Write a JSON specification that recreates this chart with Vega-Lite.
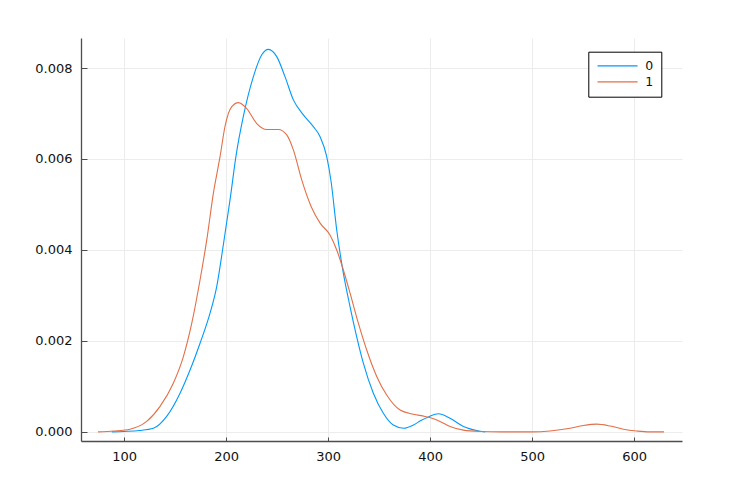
{
  "$schema": "https://vega.github.io/schema/vega-lite/v6.json",
  "width": 601,
  "height": 403,
  "autosize": {"type": "none"},
  "padding": {"left": 81, "top": 38, "right": 63, "bottom": 60},
  "background": "white",
  "config": {
    "view": {"stroke": null},
    "font": "DejaVu Sans",
    "axis": {
      "domainColor": "#4d4d4d",
      "domainWidth": 1.3,
      "tickColor": "#4d4d4d",
      "tickWidth": 1,
      "gridColor": "#ececec",
      "gridWidth": 1,
      "labelColor": "#111111",
      "labelFontSize": 13,
      "labelFont": "DejaVu Sans",
      "title": null
    }
  },
  "data": {
    "values": [
      {"x": 88, "y": 0, "s": "0"},
      {"x": 100, "y": 0.00001, "s": "0"},
      {"x": 115, "y": 0.00003, "s": "0"},
      {"x": 128.8, "y": 0.00008, "s": "0"},
      {"x": 141.8, "y": 0.00034, "s": "0"},
      {"x": 154.9, "y": 0.00085, "s": "0"},
      {"x": 164.7, "y": 0.00136, "s": "0"},
      {"x": 174.5, "y": 0.00195, "s": "0"},
      {"x": 184.3, "y": 0.00261, "s": "0"},
      {"x": 190.8, "y": 0.00319, "s": "0"},
      {"x": 197.4, "y": 0.00412, "s": "0"},
      {"x": 203.9, "y": 0.0051, "s": "0"},
      {"x": 210, "y": 0.0061, "s": "0"},
      {"x": 216.9, "y": 0.00693, "s": "0"},
      {"x": 226.8, "y": 0.00781, "s": "0"},
      {"x": 235, "y": 0.00829, "s": "0"},
      {"x": 241.5, "y": 0.00841, "s": "0"},
      {"x": 249.7, "y": 0.00825, "s": "0"},
      {"x": 257.8, "y": 0.00781, "s": "0"},
      {"x": 266, "y": 0.0073, "s": "0"},
      {"x": 275.8, "y": 0.00697, "s": "0"},
      {"x": 285.6, "y": 0.00671, "s": "0"},
      {"x": 292.2, "y": 0.00649, "s": "0"},
      {"x": 298.7, "y": 0.00605, "s": "0"},
      {"x": 303, "y": 0.0055, "s": "0"},
      {"x": 308.5, "y": 0.00444, "s": "0"},
      {"x": 315, "y": 0.00349, "s": "0"},
      {"x": 321.6, "y": 0.00275, "s": "0"},
      {"x": 328.1, "y": 0.00209, "s": "0"},
      {"x": 334.6, "y": 0.00151, "s": "0"},
      {"x": 344.4, "y": 0.00085, "s": "0"},
      {"x": 354.2, "y": 0.00041, "s": "0"},
      {"x": 364, "y": 0.00015, "s": "0"},
      {"x": 374, "y": 0.00008, "s": "0"},
      {"x": 383.6, "y": 0.00015, "s": "0"},
      {"x": 391, "y": 0.00025, "s": "0"},
      {"x": 398.4, "y": 0.00033, "s": "0"},
      {"x": 408.2, "y": 0.0004, "s": "0"},
      {"x": 419.6, "y": 0.0003, "s": "0"},
      {"x": 432.7, "y": 0.00012, "s": "0"},
      {"x": 445.8, "y": 0.00003, "s": "0"},
      {"x": 454, "y": 0, "s": "0"},
      {"x": 74.5, "y": 0, "s": "1"},
      {"x": 90, "y": 0.00002, "s": "1"},
      {"x": 105.9, "y": 0.00006, "s": "1"},
      {"x": 122.2, "y": 0.00023, "s": "1"},
      {"x": 135.3, "y": 0.00056, "s": "1"},
      {"x": 148.3, "y": 0.00107, "s": "1"},
      {"x": 158.1, "y": 0.00165, "s": "1"},
      {"x": 166.4, "y": 0.00239, "s": "1"},
      {"x": 174.5, "y": 0.00334, "s": "1"},
      {"x": 181.1, "y": 0.00422, "s": "1"},
      {"x": 187.6, "y": 0.00525, "s": "1"},
      {"x": 194.1, "y": 0.00605, "s": "1"},
      {"x": 199, "y": 0.00672, "s": "1"},
      {"x": 205.6, "y": 0.00715, "s": "1"},
      {"x": 212.1, "y": 0.00724, "s": "1"},
      {"x": 220.3, "y": 0.00711, "s": "1"},
      {"x": 230.1, "y": 0.00678, "s": "1"},
      {"x": 239.9, "y": 0.00665, "s": "1"},
      {"x": 251.3, "y": 0.00665, "s": "1"},
      {"x": 259.5, "y": 0.00653, "s": "1"},
      {"x": 266, "y": 0.0062, "s": "1"},
      {"x": 274.2, "y": 0.00554, "s": "1"},
      {"x": 283.5, "y": 0.00495, "s": "1"},
      {"x": 292.2, "y": 0.00459, "s": "1"},
      {"x": 301.9, "y": 0.00433, "s": "1"},
      {"x": 308.5, "y": 0.004, "s": "1"},
      {"x": 315, "y": 0.00356, "s": "1"},
      {"x": 321.6, "y": 0.00305, "s": "1"},
      {"x": 329.7, "y": 0.00239, "s": "1"},
      {"x": 337.9, "y": 0.0018, "s": "1"},
      {"x": 347.7, "y": 0.00122, "s": "1"},
      {"x": 357.5, "y": 0.00081, "s": "1"},
      {"x": 370.6, "y": 0.00048, "s": "1"},
      {"x": 383.6, "y": 0.00039, "s": "1"},
      {"x": 395, "y": 0.00034, "s": "1"},
      {"x": 402, "y": 0.0003, "s": "1"},
      {"x": 409.8, "y": 0.00023, "s": "1"},
      {"x": 419.6, "y": 0.00012, "s": "1"},
      {"x": 432.7, "y": 0.00004, "s": "1"},
      {"x": 449, "y": 0.00001, "s": "1"},
      {"x": 470, "y": 0, "s": "1"},
      {"x": 500, "y": 0, "s": "1"},
      {"x": 517.6, "y": 0.00002, "s": "1"},
      {"x": 537.3, "y": 0.00008, "s": "1"},
      {"x": 550.3, "y": 0.00014, "s": "1"},
      {"x": 563.4, "y": 0.00017, "s": "1"},
      {"x": 576.5, "y": 0.00013, "s": "1"},
      {"x": 589.5, "y": 0.00006, "s": "1"},
      {"x": 602.6, "y": 0.00002, "s": "1"},
      {"x": 615, "y": 0, "s": "1"},
      {"x": 629.4, "y": 0, "s": "1"}
    ]
  },
  "mark": {"type": "line", "interpolate": "monotone", "strokeWidth": 1.1},
  "encoding": {
    "x": {
      "field": "x", "type": "quantitative",
      "scale": {"domain": [57.8, 647], "nice": false, "zero": false},
      "axis": {"values": [100, 200, 300, 400, 500, 600], "tickSize": -4, "labelPadding": 13, "grid": true}
    },
    "y": {
      "field": "y", "type": "quantitative",
      "scale": {"domain": [-0.0002, 0.00866], "nice": false, "zero": false},
      "axis": {"values": [0, 0.002, 0.004, 0.006, 0.008], "format": ".3f", "tickSize": -6, "labelPadding": 15, "grid": true}
    },
    "color": {
      "field": "s", "type": "nominal",
      "scale": {"domain": ["0", "1"], "range": ["#009AFA", "#E36F47"]},
      "legend": {
        "title": null,
        "orient": "none",
        "legendX": 507.3,
        "legendY": 13.7,
        "strokeColor": "black",
        "fillColor": "white",
        "padding": 8,
        "symbolType": "M-1,0H7",
        "symbolSize": 100,
        "symbolStrokeWidth": 1.3,
        "symbolFillColor": "transparent",
        "labelFontSize": 12.5,
        "labelFont": "DejaVu Sans",
        "labelColor": "#111111",
        "labelOffset": 36.5,
        "labelExpr": "datum.label + ' '",
        "rowPadding": 3
      }
    }
  }
}
